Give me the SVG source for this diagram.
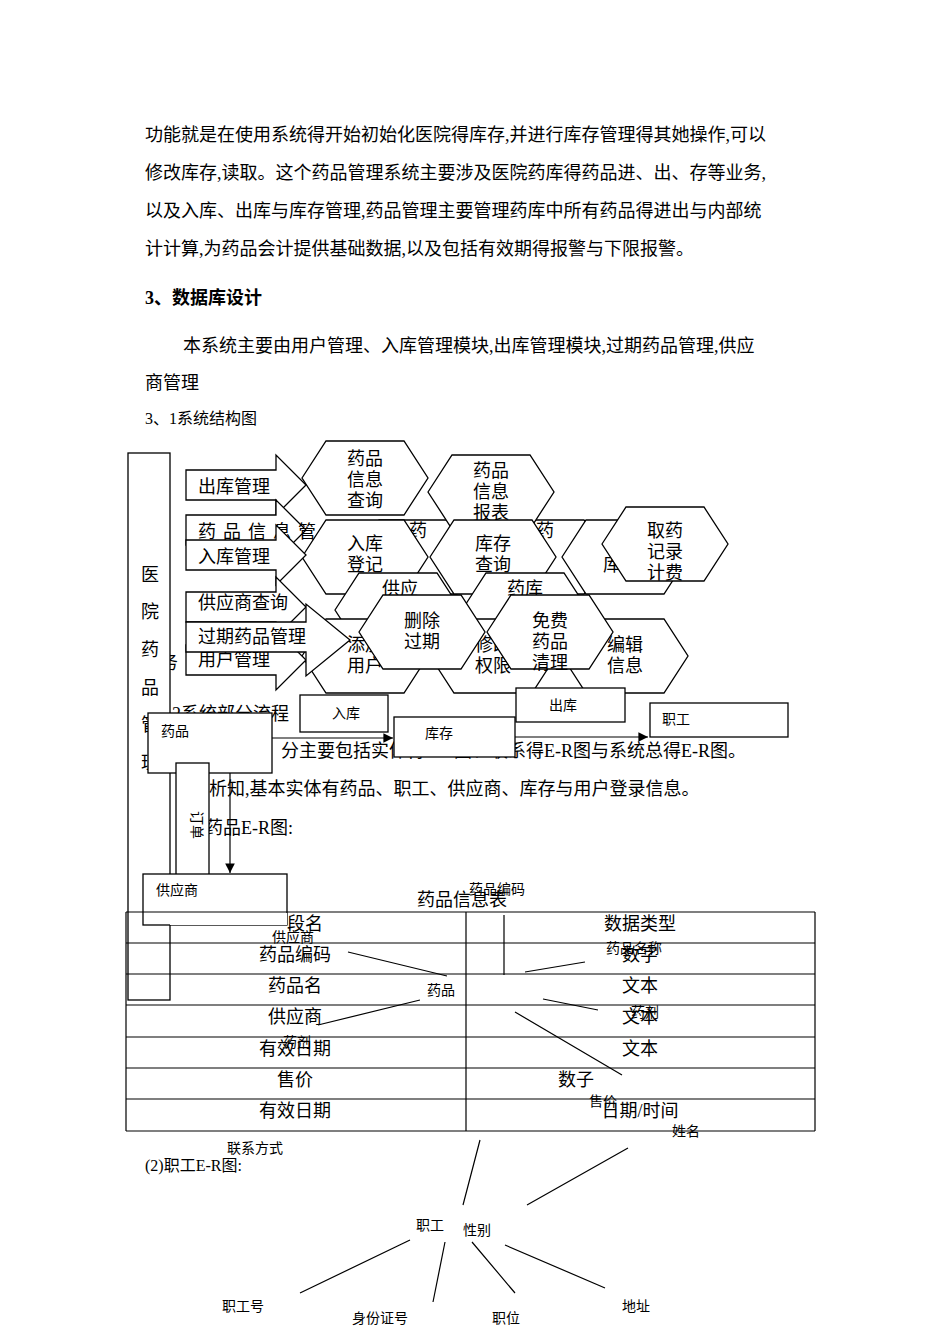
<svg xmlns="http://www.w3.org/2000/svg" width="950" height="1344" viewBox="0 0 950 1344">
<style>
text{font-family:"Liberation Serif","Noto Sans CJK SC",serif;fill:#000}
.p{font-size:18px}
.s{font-size:16px}
.t{font-size:14px}
.sh{fill:#fff;stroke:#000;stroke-width:1.3}
.ln{stroke:#000;stroke-width:1.2;fill:none}
.c{text-anchor:middle}
</style>
<defs>
<marker id="ah" viewBox="0 0 10 10" refX="10" refY="5" markerWidth="8" markerHeight="8" orient="auto"><path d="M0,0L10,5L0,10z"/></marker>
<polygon id="hx" points="-63,0 -39,-37 39,-37 63,0 39,37 -39,37"/>
<polygon id="ba" points="0,-15 90,-15 90,-30 120,0 90,30 90,15 0,15"/>
</defs>
<rect width="950" height="1344" fill="#fff"/>
<g id="body">
<text class="p" x="145" y="141">功能就是在使用系统得开始初始化医院得库存,并进行库存管理得其她操作,可以</text>
<text class="p" x="145" y="179">修改库存,读取。这个药品管理系统主要涉及医院药库得药品进、出、存等业务,</text>
<text class="p" x="145" y="217">以及入库、出库与库存管理,药品管理主要管理药库中所有药品得进出与内部统</text>
<text class="p" x="145" y="255">计计算,为药品会计提供基础数据,以及包括有效期得报警与下限报警。</text>
<text class="p" x="145" y="304" font-weight="bold">3、数据库设计</text>
<text class="p" x="183" y="352">本系统主要由用户管理、入库管理模块,出库管理模块,过期药品管理,供应</text>
<text class="p" x="145" y="389">商管理</text>
<text class="s" x="145" y="424">3、1系统结构图</text>
<text class="p" x="160" y="669">务</text>
<text class="p" x="172" y="720">2系统部分流程</text>
<text class="p" x="281" y="757">分主要包括实体得E-R图、联系得E-R图与系统总得E-R图。</text>
<text class="p" x="191" y="795">分析知,基本实体有药品、职工、供应商、库存与用户登录信息。</text>
<text class="p" x="205" y="834">药品E-R图:</text>
</g>
<g id="main-box"><rect class="sh" x="128" y="453" width="42" height="547"/>
<text class="p c" x="150" y="581">医</text><text class="p c" x="150" y="618">院</text><text class="p c" x="150" y="656">药</text><text class="p c" x="150" y="694">品</text><text class="p c" x="150" y="731">管</text><text class="p c" x="150" y="769">理</text></g>
<g id="hex-back">
<use href="#hx" class="sh" x="418" y="557"/><text class="p c" x="418" y="537">药</text>
<use href="#hx" class="sh" x="545" y="557"/><text class="p c" x="545" y="537">药</text>
<use href="#hx" class="sh" x="625" y="557"/><text class="p c" x="612" y="571">库</text>
</g>
<g id="hex1"><use href="#hx" class="sh" x="365" y="478"/><text class="p c" x="365" y="465">药品</text><text class="p c" x="365" y="486">信息</text><text class="p c" x="365" y="507">查询</text></g>
<g id="hex2"><use href="#hx" class="sh" x="491" y="492"/><text class="p c" x="491" y="477">药品</text><text class="p c" x="491" y="498">信息</text><text class="p c" x="491" y="519">报表</text></g>
<g id="arrows-block">
<use href="#ba" class="sh" x="186" y="485"/><text class="p" x="198" y="493">出库管理</text>
<use href="#ba" class="sh" x="186" y="530"/><text class="p" x="198" y="538" letter-spacing="7">药品信息管</text>
</g>
<g id="hex3"><use href="#hx" class="sh" x="365" y="557"/><text class="p c" x="365" y="550">入库</text><text class="p c" x="365" y="571">登记</text></g>
<g id="hex4"><use href="#hx" class="sh" x="493" y="557"/><text class="p c" x="493" y="550">库存</text><text class="p c" x="493" y="571">查询</text></g>
<g id="hex5"><use href="#hx" class="sh" x="665" y="544"/><text class="p c" x="665" y="537">取药</text><text class="p c" x="665" y="558">记录</text><text class="p c" x="665" y="579">计费</text></g>
<g id="arrow-in"><use href="#ba" class="sh" x="186" y="555"/><text class="p" x="198" y="563">入库管理</text></g>
<g id="hex6"><use href="#hx" class="sh" x="398" y="610"/><text class="p c" x="400" y="595">供应</text><text class="p c" x="400" y="616">商信</text></g>
<g id="hex7"><use href="#hx" class="sh" x="525" y="610"/><text class="p c" x="525" y="595">药库</text><text class="p c" x="525" y="616">清理</text></g>
<g id="hex8"><use href="#hx" class="sh" x="365" y="656"/><text class="p c" x="365" y="651">添加</text><text class="p c" x="365" y="672">用户</text></g>
<g id="hex9"><use href="#hx" class="sh" x="493" y="656"/><text class="p c" x="493" y="651">修改</text><text class="p c" x="493" y="672">权限</text></g>
<g id="hex10"><use href="#hx" class="sh" x="625" y="656"/><text class="p c" x="625" y="651">编辑</text><text class="p c" x="625" y="672">信息</text></g>
<g id="arrows-block2">
<use href="#ba" class="sh" x="186" y="607"/><text class="p" x="198" y="609">供应商查询</text>
<use href="#ba" class="sh" x="186" y="660"/><text class="p" x="198" y="666">用户管理</text>
<polygon class="sh" points="186,622 306,622 306,604 350,640 306,676 306,652 186,652"/><text class="p" x="198" y="643">过期药品管理</text>
</g>
<g id="hex11"><use href="#hx" class="sh" x="422" y="632"/><text class="p c" x="422" y="627">删除</text><text class="p c" x="422" y="648">过期</text></g>
<g id="hex12"><use href="#hx" class="sh" x="550" y="632"/><text class="p c" x="550" y="627">免费</text><text class="p c" x="550" y="648">药品</text><text class="p c" x="550" y="669">清理</text></g>
<g id="flow">
<g id="n-ruku"><rect class="sh" x="300" y="695" width="88" height="37"/><text class="t" x="332" y="718">入库</text></g>
<g id="n-chuku"><rect class="sh" x="516" y="688" width="109" height="34"/><text class="t" x="549" y="710">出库</text></g>
<g id="n-kucun"><rect class="sh" x="394" y="717" width="121" height="40"/><text class="t" x="425" y="738">库存</text></g>
<g id="n-zhigong"><rect class="sh" x="650" y="703" width="138" height="34"/><text class="t" x="662" y="724">职工</text></g>
<g id="n-yaopin"><rect class="sh" x="148" y="713" width="124" height="60"/><text class="t" x="161" y="736">药品</text></g>
<g id="n-dingdan"><rect class="sh" x="176" y="763" width="33" height="112"/><text class="t c" transform="translate(192,825) rotate(90)">订单</text></g>
<g id="n-gys"><rect class="sh" x="143" y="874" width="144" height="51"/><text class="t" x="156" y="895">供应商</text></g>
<g id="connectors"><line class="ln" x1="272" y1="738" x2="393" y2="738" marker-end="url(#ah)"/><line class="ln" x1="515" y1="737" x2="648" y2="737" marker-end="url(#ah)"/><line class="ln" x1="230" y1="773" x2="230" y2="873" marker-end="url(#ah)"/></g>
</g>
<g id="table">
<text class="p c" x="462" y="906">药品信息表</text>
<text class="t c" x="497" y="894">药品编码</text>
<path class="ln" d="M126,912H815M126,943H815M126,974H815M126,1005H815M126,1037H815M126,1068H815M126,1099H815M126,1131H815M126,912V1131M815,912V1131M466,912V1131"/>
<rect x="170" y="913" width="117" height="12" fill="#fff"/>
<text class="p c" x="305" y="930">段名</text><text class="p c" x="640" y="930">数据类型</text>
<text class="t c" x="293" y="942">供应商</text>
<text class="p c" x="295" y="961">药品编码</text><text class="p c" x="640" y="961">数字</text>
<text class="t c" x="634" y="953">药品名称</text>
<text class="p c" x="295" y="992">药品名</text><text class="p c" x="640" y="992">文本</text>
<text class="p c" x="295" y="1023">供应商</text><text class="p c" x="640" y="1023">文本</text>
<text class="t c" x="645" y="1017">药剂</text>
<text class="p c" x="295" y="1055">有效日期</text><text class="p c" x="640" y="1055">文本</text>
<text class="t c" x="297" y="1047">药剂</text>
<text class="p c" x="295" y="1086">售价</text><text class="p c" x="576" y="1086">数子</text>
<text class="p c" x="295" y="1117">有效日期</text><text class="p c" x="640" y="1117">日期/时间</text>
<text class="t c" x="603" y="1106">售价</text>
<text class="t c" x="441" y="995">药品</text>
<text class="t c" x="686" y="1136">姓名</text>
<path class="ln" d="M504,915V975M348,952L447,976M525,972L585,962M318,1025L420,1000M543,999L598,1010M515,1012L622,1075"/>
</g>
<g id="er2">
<text class="t c" x="255" y="1153">联系方式</text>
<text class="s" x="145" y="1171">(2)职工E-R图:</text>
<text class="t c" x="430" y="1230">职工</text><text class="t c" x="477" y="1235">性别</text>
<text class="t c" x="243" y="1311">职工号</text><text class="t c" x="380" y="1323">身份证号</text><text class="t c" x="506" y="1323">职位</text><text class="t c" x="636" y="1311">地址</text>
<path class="ln" d="M463,1205L480,1140M527,1205L628,1148M410,1240L300,1293M445,1242L433,1302M472,1242L515,1293M505,1245L605,1288"/>
</g>
</svg>
